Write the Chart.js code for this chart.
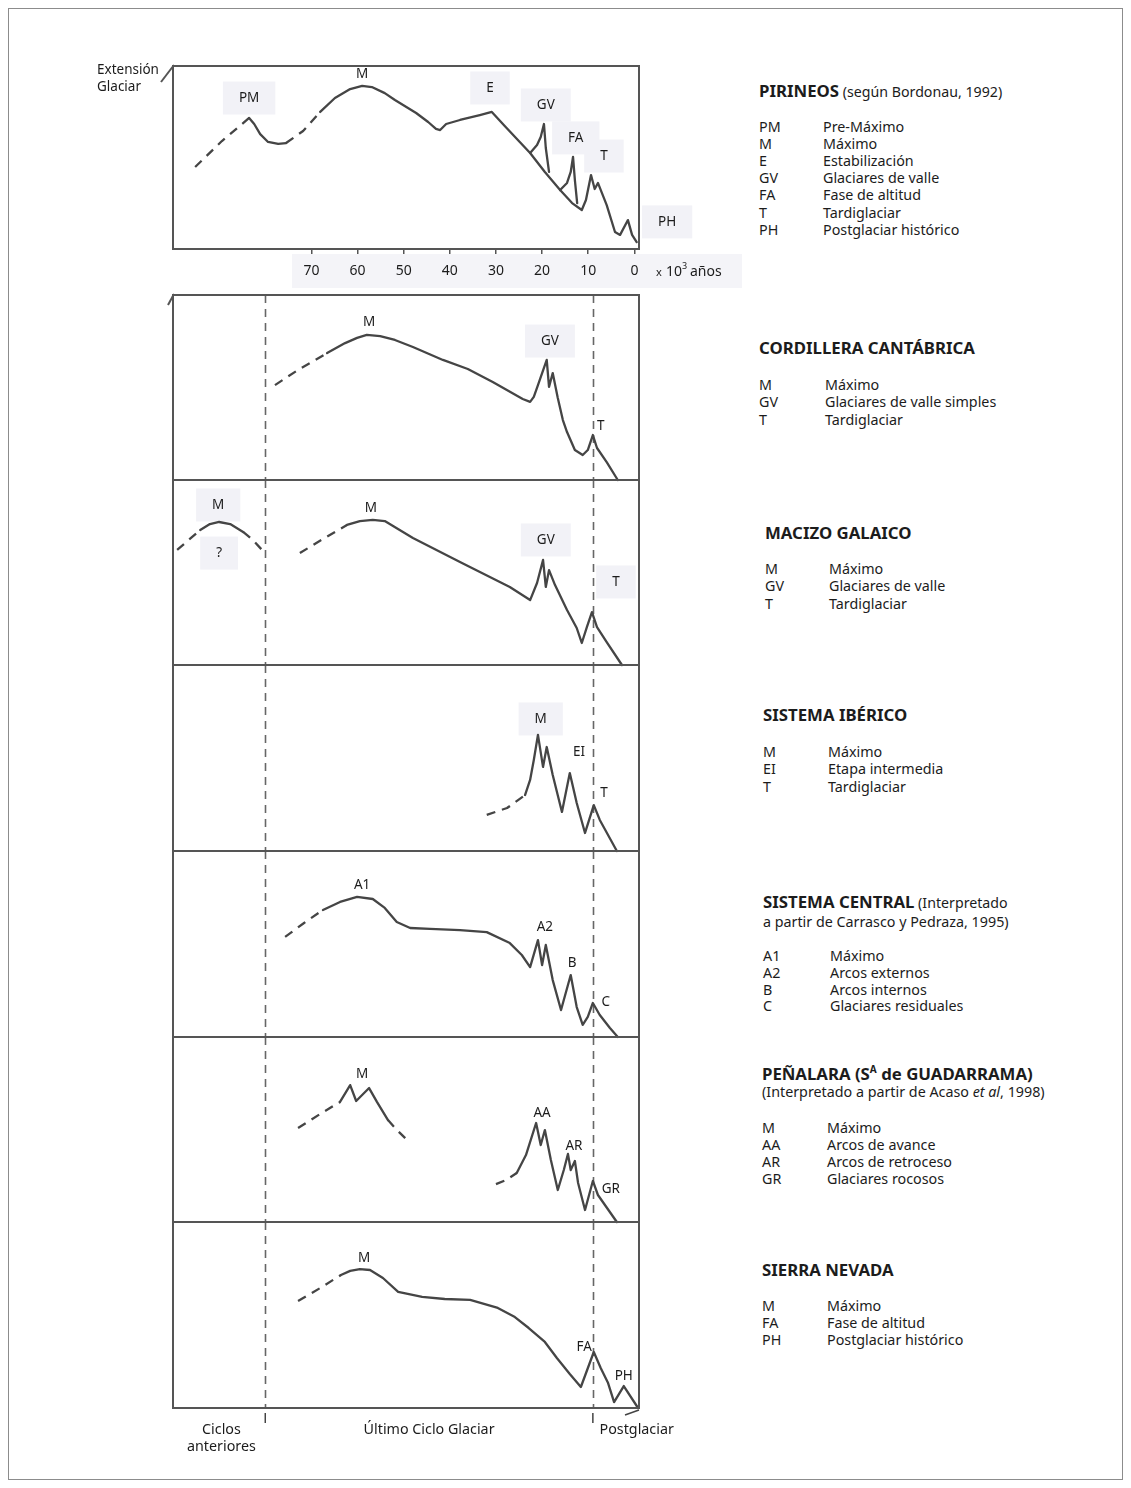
<!DOCTYPE html>
<html><head><meta charset="utf-8">
<script src="https://cdn.jsdelivr.net/npm/chart.js@4.4.1/dist/chart.umd.min.js"></script>
<style>
html,body{margin:0;padding:0;background:#fff}
body{width:1131px;height:1488px;position:relative;overflow:hidden;font-family:"Noto Sans",sans-serif;color:#1c1c1c}
#frame{position:absolute;left:8px;top:8px;width:1113px;height:1470px;border:1px solid #8c8c8c}
canvas{position:absolute}
.lg{position:absolute;white-space:nowrap;font-size:14.3px;line-height:18px}
.tt{font-size:16.8px;font-weight:bold;letter-spacing:0}
.nt{font-size:14.2px;font-weight:normal}
sup{font-size:10px;vertical-align:7px;line-height:0}
</style></head>
<body>
<div id="frame"></div>
<script>
// ---------- DATA (x = thousands of years BP, y = relative glacier extent 0-100) ----------
const xTickValues = [70, 60, 50, 40, 30, 20, 10, 0];
const boundaryKa = [80, 9];

// Pirineos
const pirineosDashedA = [[95.2,44.8],[89.4,59.0],[83.5,71.6]];
const pirineosPreMax  = [[83.5,71.6],[82.4,68.3],[81.1,62.8],[79.4,58.5],[77.2,57.4],[75.5,57.9]];
const pirineosDashedB = [[75.5,57.9],[71.8,64.5],[68.1,74.9]];
const pirineosMain    = [[68.1,74.9],[64.9,82.5],[61.6,87.4],[59.0,89.1],[56.9,88.5],[54.1,85.2],[51.9,81.4],[47.3,74.3],[44.7,69.4],[43.0,65.6],[42.1,65.0],[40.8,68.3],[37.8,70.5],[33.5,73.2],[30.9,74.9],[28.1,67.2],[22.6,52.5],[19.4,42.1],[16.1,32.2],[13.5,25.1],[11.4,21.3],[10.5,26.8],[9.4,40.4],[8.6,32.8],[7.9,36.1],[6.0,24.0],[4.2,9.3],[3.1,7.7],[1.4,15.8],[0.5,7.7],[-0.5,3.8]];
const pirineosGV      = [[22.6,52.5],[21.1,56.8],[20.3,61.2],[19.6,68.3],[19.2,55.2],[18.5,42.1]];
const pirineosFA      = [[16.1,32.2],[14.6,36.1],[13.8,42.1],[13.3,50.3],[12.9,37.7],[12.4,25.1]];
const pirineosLabels  = [['PM',83.5,82.5,1],['M',59.0,95.6,0],['E',31.3,88.0,1],['GV',19.2,78.7,1],['FA',12.7,60.7,1],['T',6.6,50.8,1],['PH',-7.1,14.8,1]];

// Cordillera Cantábrica
const cantabricaDashed = [[77.9,51.3],[72.9,59.5],[66.6,68.6]];
const cantabricaMain   = [[66.6,68.6],[62.7,74.0],[60.1,76.8],[58.0,78.4],[55.1,77.8],[51.9,75.7],[48.0,71.9],[41.5,64.9],[36.1,60.0],[30.7,53.0],[24.2,43.8],[22.6,42.2],[21.8,44.9],[20.9,51.3],[19.0,64.9],[18.5,50.3],[17.7,57.8],[16.6,44.3],[15.5,32.4],[14.6,25.9],[12.9,16.2],[11.2,13.5],[10.1,16.2],[9.0,24.3],[8.1,17.3],[6.0,9.7],[3.6,0]];
const cantabricaLabels = [['M',57.5,85.4,0],['GV',18.3,75.1,1],['T',7.3,29.2,0]];

// Macizo Galaico
const galaicoPrevDashedA = [[99.1,62.2],[96.6,67.6],[94.1,73.0]];
const galaicoPrevArc     = [[94.1,73.0],[92.0,76.2],[90.0,77.3],[87.6,76.2],[84.8,71.9]];
const galaicoPrevDashedB = [[84.8,71.9],[82.7,67.6],[80.7,62.2]];
const galaicoDashed      = [[72.5,60.5],[67.5,68.1],[62.3,75.7]];
const galaicoMain        = [[62.3,75.7],[59.5,77.8],[56.7,78.4],[54.1,77.8],[48.0,68.6],[37.8,55.7],[27.0,42.2],[22.6,35.1],[21.1,44.3],[19.8,56.8],[19.2,42.2],[18.5,51.3],[17.2,43.2],[14.6,29.7],[12.5,20.0],[11.4,11.9],[10.3,20.5],[9.2,28.6],[8.1,20.5],[6.0,12.4],[2.7,0]];
const galaicoLabels      = [['M',90.2,86.5,1],['?',90.0,60.5,1],['M',57.1,84.9,0],['GV',19.2,67.6,1],['T',4.0,44.9,1]];

// Sistema Ibérico
const ibericoDashed = [[32.0,19.4],[27.6,23.1],[23.7,30.1]];
const ibericoMain   = [[23.7,30.1],[22.6,38.2],[21.8,48.9],[20.9,62.4],[19.8,45.2],[19.0,55.9],[17.7,40.9],[15.7,21.0],[14.0,41.9],[12.5,25.8],[10.7,9.7],[8.8,24.7],[7.5,16.7],[3.8,0]];
const ibericoLabels = [['M',20.3,71.0,1],['EI',12.0,53.2,0],['T',6.6,31.2,0]];

// Sistema Central
const centralDashed = [[75.7,53.8],[71.6,61.3],[67.5,68.3]];
const centralMain   = [[67.5,68.3],[63.8,72.6],[60.1,75.3],[56.7,74.2],[54.1,69.4],[51.5,61.8],[48.6,58.6],[44.3,58.1],[37.8,57.5],[32.0,56.4],[27.0,50.5],[24.4,44.1],[22.6,37.6],[20.9,52.1],[20.0,38.7],[19.2,49.5],[17.7,30.6],[15.9,14.5],[13.8,33.3],[12.5,16.1],[11.2,6.5],[10.1,10.8],[9.0,18.3],[7.5,11.8],[5.3,4.8],[3.6,0]];
const centralLabels = [['A1',59.0,81.7,0],['A2',19.4,59.1,0],['B',13.5,39.8,0],['C',6.2,18.8,0]];

// Peñalara
const penalaraDashedA = [[72.9,50.8],[68.1,58.4],[63.8,64.9]];
const penalaraEarly   = [[63.8,64.9],[61.6,74.0],[60.3,65.4],[57.5,72.4],[55.8,64.9],[53.4,55.1]];
const penalaraDashedB = [[53.4,55.1],[51.9,50.8],[48.6,42.7]];
const penalaraDashedC = [[30.0,20.5],[27.8,22.7],[25.5,26.5]];
const penalaraLate    = [[25.5,26.5],[23.5,36.2],[21.3,53.5],[20.3,41.6],[19.4,49.7],[18.1,33.5],[16.6,17.3],[15.3,28.1],[14.4,36.8],[13.8,28.1],[12.9,33.0],[12.2,21.1],[10.7,6.5],[9.0,22.2],[7.9,14.6],[3.8,0]];
const penalaraLabels  = [['M',59.0,80.0,0],['AA',20.0,58.9,0],['AR',13.1,41.1,0],['GR',5.1,17.8,0]];

// Sierra Nevada
const nevadaDashed = [[72.9,57.5],[68.1,64.5],[63.6,71.5]];
const nevadaMain   = [[63.6,71.5],[61.6,73.7],[59.5,74.7],[57.3,74.2],[54.5,69.9],[51.2,62.4],[46.0,59.7],[41.1,58.6],[35.6,58.1],[29.6,53.8],[25.9,48.9],[22.9,43.0],[19.4,35.5],[16.8,26.9],[14.0,18.3],[11.6,11.3],[8.8,30.1],[7.3,21.5],[5.7,13.4],[4.4,3.2],[2.3,11.8],[-0.8,0]];
const nevadaLabels = [['M',58.6,80.6,0],['FA',10.9,32.8,0],['PH',2.3,17.2,0]];

const bottomLabels = [['Ciclos',89.5,0],['anteriores',89.5,1],['Último Ciclo Glaciar',44.5,0],['Postglaciar',-0.5,0]];

// Legends
const legendTitles = ['PIRINEOS','CORDILLERA CANTÁBRICA','MACIZO GALAICO','SISTEMA IBÉRICO','SISTEMA CENTRAL','PEÑALARA (S<sup>A</sup> de GUADARRAMA)','SIERRA NEVADA'];
const legendNotes  = [' (según Bordonau, 1992)','','','',' (Interpretado','',''];
const legendSub    = ['','','','','a partir de Carrasco y Pedraza, 1995)','(Interpretado a partir de Acaso <i>et al</i>, 1998)',''];
const legendCodes  = [['PM','M','E','GV','FA','T','PH'],['M','GV','T'],['M','GV','T'],['M','EI','T'],['A1','A2','B','C'],['M','AA','AR','GR'],['M','FA','PH']];
const legendNames  = [
  ['Pre-Máximo','Máximo','Estabilización','Glaciares de valle','Fase de altitud','Tardiglaciar','Postglaciar histórico'],
  ['Máximo','Glaciares de valle simples','Tardiglaciar'],
  ['Máximo','Glaciares de valle','Tardiglaciar'],
  ['Máximo','Etapa intermedia','Tardiglaciar'],
  ['Máximo','Arcos externos','Arcos internos','Glaciares residuales'],
  ['Máximo','Arcos de avance','Arcos de retroceso','Glaciares rocosos'],
  ['Máximo','Fase de altitud','Postglaciar histórico']
];

// ---------- STYLE / LAYOUT ----------
const FONT = '"Noto Sans", sans-serif';
const LINE = '#454545';
const FRAME = '#555555';
const BOXBG = '#f2f2f7';

const legendLayout = [
  {x:759, xd:823, ty:91,  sy:0,    iy:127, step:17.1},
  {x:759, xd:825, ty:348, sy:0,    iy:385, step:17.4},
  {x:765, xd:829, ty:533, sy:0,    iy:569, step:17.4},
  {x:763, xd:828, ty:715, sy:0,    iy:752, step:17.4},
  {x:763, xd:830, ty:902, sy:922,  iy:956, step:16.8},
  {x:762, xd:827, ty:1074,sy:1092, iy:1128,step:17.0},
  {x:762, xd:827, ty:1270,sy:0,    iy:1306,step:17.0}
];

function addDiv(cls, html, x, cy){
  const d = document.createElement('div');
  d.className = 'lg ' + cls;
  d.innerHTML = html;
  d.style.left = x + 'px';
  d.style.top = (cy - 9) + 'px';
  document.body.appendChild(d);
}
legendTitles.forEach((t, i) => {
  const L = legendLayout[i];
  addDiv('tt', t + (legendNotes[i] ? '<span class="nt">' + legendNotes[i] + '</span>' : ''), L.x, L.ty);
  if (legendSub[i]) addDiv('', legendSub[i], L.x, L.sy);
  legendCodes[i].forEach((c, j) => {
    addDiv('', c, L.x, L.iy + j * L.step);
    addDiv('', legendNames[i][j], L.xd, L.iy + j * L.step);
  });
});

function ds(points, dashed){
  return {
    data: points.map(p => ({x: p[0], y: p[1]})),
    borderColor: LINE, borderWidth: 2.3,
    borderDash: dashed ? [9, 7] : [],
    borderCapStyle: dashed ? 'butt' : 'round',
    borderJoinStyle: 'round',
    pointRadius: 0, tension: 0, fill: false, clip: 8
  };
}

function labelPos(chart, l){
  return [chart.scales.x.getPixelForValue(l[1]), chart.scales.y.getPixelForValue(l[2])];
}
function drawLabelBoxes(chart, labels){
  const ctx = chart.ctx;
  ctx.save();
  ctx.font = '13.5px ' + FONT;
  labels.forEach(l => {
    if (!l[3]) return;
    const [px, py] = labelPos(chart, l);
    const w = ctx.measureText(l[0]).width + 32, h = 33;
    ctx.fillStyle = BOXBG;
    ctx.fillRect(px - w / 2, py - h / 2, w, h);
  });
  ctx.restore();
}
function drawLabelTexts(chart, labels){
  const ctx = chart.ctx;
  ctx.save();
  ctx.font = '13.5px ' + FONT;
  ctx.fillStyle = '#1c1c1c';
  ctx.textAlign = 'center';
  ctx.textBaseline = 'middle';
  labels.forEach(l => {
    const [px, py] = labelPos(chart, l);
    ctx.fillText(l[0], px, py);
  });
  ctx.restore();
}
function drawFrame(chart, slant){
  const {ctx, chartArea: a} = chart;
  ctx.save();
  ctx.strokeStyle = FRAME;
  ctx.lineWidth = 2;
  ctx.strokeRect(a.left, a.top, a.right - a.left, a.bottom - a.top);
  if (slant){
    ctx.beginPath();
    ctx.moveTo(a.left + 1, a.top - 1);
    ctx.lineTo(a.left + slant[0], a.top + slant[1]);
    ctx.stroke();
  }
  ctx.restore();
}
function drawBoundaries(chart){
  const {ctx, chartArea: a, scales: {x}} = chart;
  ctx.save();
  ctx.strokeStyle = '#666';
  ctx.lineWidth = 1.6;
  ctx.setLineDash([8, 6]);
  boundaryKa.forEach(k => {
    const px = Math.round(x.getPixelForValue(k)) + 0.5;
    ctx.beginPath();
    ctx.moveTo(px, a.top);
    ctx.lineTo(px, a.bottom);
    ctx.stroke();
  });
  ctx.restore();
}

function makeChart(o){
  const c = document.createElement('canvas');
  c.width = o.width; c.height = o.height;
  c.style.left = o.left + 'px'; c.style.top = o.top + 'px';
  c.style.width = o.width + 'px'; c.style.height = o.height + 'px';
  document.body.appendChild(c);
  const datasets = o.solid.map(s => ds(s, false)).concat(o.dashed.map(s => ds(s, true)));
  const xScale = o.xAxis || {type: 'linear', display: false};
  xScale.type = 'linear'; xScale.reverse = true; xScale.min = -1; xScale.max = 100;
  return new Chart(c, {
    type: 'line',
    data: {datasets},
    options: {
      responsive: false, animation: false, events: [],
      layout: {padding: o.pad},
      plugins: {legend: {display: false}, tooltip: {enabled: false}},
      scales: {x: xScale, y: {type: 'linear', display: false, min: 0, max: 100}}
    },
    plugins: [{
      id: 'decor',
      beforeDraw(chart){ if (o.beforeDraw) o.beforeDraw(chart); },
      beforeDatasetsDraw(chart){
        drawLabelBoxes(chart, o.labels);
        if (o.boundaries) drawBoundaries(chart);
      },
      afterDatasetsDraw(chart){
        drawFrame(chart, o.slant);
        drawLabelTexts(chart, o.labels);
        if (o.afterDraw) o.afterDraw(chart);
      }
    }]
  });
}

// ---------- TOP PANEL (Pirineos) ----------
makeChart({
  left: 60, top: 50, width: 700, height: 250,
  pad: {left: 113, right: 121, top: 16, bottom: 0},
  solid: [pirineosPreMax, pirineosMain, pirineosGV, pirineosFA],
  dashed: [pirineosDashedA, pirineosDashedB],
  labels: pirineosLabels,
  slant: [-12, 16],
  xAxis: {
    display: true,
    position: 'bottom',
    afterFit(s){ s.height = 51; },
    afterBuildTicks(s){ s.ticks = xTickValues.map(v => ({value: v})); },
    grid: {display: true, drawOnChartArea: false, drawTicks: true, tickLength: 5, color: '#555', lineWidth: 1.5},
    border: {display: false},
    ticks: {autoSkip: false, maxRotation: 0, padding: 9, color: '#1c1c1c', font: {family: FONT, size: 14},
            callback: v => String(v)}
  },
  beforeDraw(chart){
    const ctx = chart.ctx;
    ctx.save();
    ctx.fillStyle = '#f4f4f8';
    ctx.fillRect(232, 204, 450, 34);
    ctx.restore();
  },
  afterDraw(chart){
    const ctx = chart.ctx, a = chart.chartArea;
    ctx.save();
    ctx.fillStyle = '#1c1c1c';
    ctx.textBaseline = 'middle';
    ctx.font = '13.5px ' + FONT;
    ctx.fillText('Extensión', 37, 20);
    ctx.fillText('Glaciar', 37, 37);
    const ty = a.bottom + 23;
    ctx.font = '11px ' + FONT;
    ctx.fillText('x', 596, ty + 1);
    ctx.font = '14px ' + FONT;
    ctx.fillText('10', 606, ty);
    ctx.font = '9px ' + FONT;
    ctx.fillText('3', 622, ty - 6);
    ctx.font = '14px ' + FONT;
    ctx.fillText('años', 630, ty);
    ctx.restore();
  }
});

// ---------- LOWER PANELS ----------
const lowerTops = [295, 480, 665, 851, 1037, 1222, 1408];
const lowerPanels = [
  {solid: [cantabricaMain], dashed: [cantabricaDashed], labels: cantabricaLabels, slant: [-5, 10]},
  {solid: [galaicoPrevArc, galaicoMain], dashed: [galaicoPrevDashedA, galaicoPrevDashedB, galaicoDashed], labels: galaicoLabels},
  {solid: [ibericoMain], dashed: [ibericoDashed], labels: ibericoLabels},
  {solid: [centralMain], dashed: [centralDashed], labels: centralLabels},
  {solid: [penalaraEarly, penalaraLate], dashed: [penalaraDashedA, penalaraDashedB, penalaraDashedC], labels: penalaraLabels},
  {solid: [nevadaMain], dashed: [nevadaDashed], labels: nevadaLabels, last: true}
];
lowerPanels.forEach((p, i) => {
  const T = lowerTops[i], B = lowerTops[i + 1];
  const padB = p.last ? 60 : 12;
  makeChart({
    left: 150, top: T - 12, width: 570, height: (B - T) + 12 + padB,
    pad: {left: 23, right: 81, top: 12, bottom: padB},
    solid: p.solid, dashed: p.dashed, labels: p.labels, slant: p.slant,
    boundaries: true,
    afterDraw: p.last ? (chart => {
      const {ctx, chartArea: a, scales: {x}} = chart;
      ctx.save();
      ctx.strokeStyle = '#444'; ctx.lineWidth = 1.5;
      boundaryKa.forEach(k => {
        const px = x.getPixelForValue(k);
        ctx.beginPath(); ctx.moveTo(px, a.bottom + 5); ctx.lineTo(px, a.bottom + 15); ctx.stroke();
      });
      ctx.beginPath(); ctx.moveTo(a.right - 14, a.bottom + 7); ctx.lineTo(a.right, a.bottom + 2); ctx.stroke();
      ctx.fillStyle = '#1c1c1c';
      ctx.font = '14.3px ' + FONT;
      ctx.textAlign = 'center'; ctx.textBaseline = 'middle';
      bottomLabels.forEach(l => {
        ctx.fillText(l[0], x.getPixelForValue(l[1]), a.bottom + 22 + l[2] * 17);
      });
      ctx.restore();
    }) : null
  });
});
</script>
</body></html>
